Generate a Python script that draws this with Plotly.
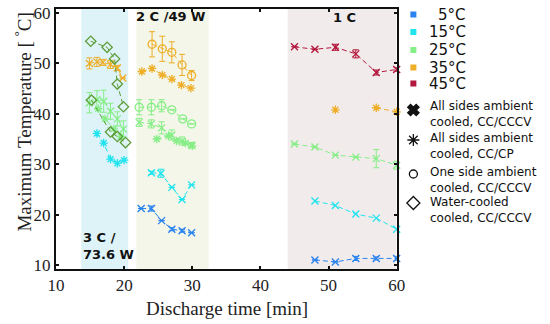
import plotly.graph_objects as go

# ---------------- data ----------------
temps = ["5°C", "15°C", "25°C", "35°C", "45°C"]
temp_colors = ["#2a83ee", "#1fe4ee", "#86ee86", "#eeae28", "#b3173d"]
diamond_color = "#5f9e3a"

method_labels = [
    "All sides ambient<br>cooled, CC/CCCV",
    "All sides ambient<br>cooled, CC/CP",
    "One side ambient<br>cooled, CC/CCCV",
    "Water-cooled<br>cooled, CC/CCCV",
]

bands = [(13.7, 20.6), (21.8, 32.4), (44.0, 60.0)]
band_labels = ["3 C /<br>73.6 W", "2 C /49 W", "1 C"]

x_ticks = [10, 20, 30, 40, 50, 60]
y_ticks = [10, 20, 30, 40, 50, 60]

# 5 °C
t_5_2c = [22.5, 24.0, 25.5, 27.0, 28.5, 29.9]
T_5_2c = [21.2, 21.2, 18.8, 17.1, 16.8, 16.4]
e_5_2c = [0, 0.5, 0, 0.3, 0.3, 0]
t_5_1c = [48, 51, 54, 57, 60]
T_5_1c = [11.0, 10.6, 11.3, 11.3, 11.3]
e_5_1c = [0, 0, 0.4, 0.3, 0.4]

# 15 °C
t_15_3c = [16.0, 17.0, 18.0, 19.0, 20.0]
T_15_3c = [36.1, 34.2, 31.0, 30.2, 30.8]
t_15_2c = [24.0, 25.4, 27.0, 28.5, 29.9]
T_15_2c = [28.3, 28.2, 25.4, 23.0, 25.9]
e_15_2c = [0.3, 0.8, 0, 0, 0]
t_15_1c = [48, 51, 54, 57, 60]
T_15_1c = [22.7, 21.8, 20.1, 19.3, 17.1]

# 25 °C
t_25_3c_a = [14.9, 16.0, 17.0, 18.0, 19.0, 19.9]
T_25_3c_a = [42.2, 42.8, 42.5, 40.5, 39.0, 37.0]
e_25_3c_a = [2.0, 1.8, 2.2, 1.6, 1.4, 1.6]
t_25_3c_b = [16.2, 17.2, 18.5, 19.5]
T_25_3c_b = [41.0, 39.0, 37.0, 35.5]
t_25_2c_o = [22.2, 24.0, 25.5, 27.0, 28.6, 29.9]
T_25_2c_o = [41.3, 41.3, 41.6, 40.8, 39.0, 38.0]
e_25_2c_o = [1.5, 1.5, 1.2, 0, 0, 0]
t_25_2c_a = [22.2, 24.0, 25.5, 27.0, 28.5, 29.9]
T_25_2c_a = [38.3, 38.0, 37.2, 35.8, 34.6, 33.8]
e_25_2c_a = [0.8, 0.8, 1.2, 1.0, 0.8, 0.5]
t_25_2c_b = [24.8, 26.5, 27.7, 29.0, 30.0]
T_25_2c_b = [35.0, 35.6, 34.6, 34.2, 33.6]
t_25_1c = [45, 48, 51, 54, 57, 60]
T_25_1c = [34.0, 33.4, 31.8, 31.4, 31.1, 29.8]
e_25_1c = [0, 0, 0, 0, 1.8, 0.8]

# 35 °C
t_35_3c = [14.9, 16.0, 16.9, 18.0, 19.0, 19.8]
T_35_3c = [50.0, 50.3, 50.2, 49.8, 49.1, 47.1]
e_35_3c = [1.1, 0.9, 0.6, 0.8, 0.5, 0]
t_35_2c_o = [24.1, 25.6, 27.0, 28.5, 29.9]
T_35_2c_o = [53.8, 52.9, 52.2, 49.7, 47.6]
e_35_2c_o = [2.5, 2.5, 2.1, 2.1, 1.0]
t_35_2c_b = [22.6, 24.1, 25.6, 27.0, 28.4, 29.8]
T_35_2c_b = [48.4, 49.0, 47.7, 46.9, 45.7, 45.1]
t_35_1c = [51, 54, 57, 60]
T_35_1c = [40.8, None, 41.2, 40.4]

# 45 °C
t_45_1c = [45, 48, 51, 54, 57, 60]
T_45_1c = [53.3, 52.8, 53.2, 51.9, 48.2, 48.8]
e_45_1c = [0, 0, 0.6, 0.8, 0.5, 0.4]

# water-cooled (diamonds)
t_wc_a = [15.1, 17.5, 18.6, 19.0, 19.9]
T_wc_a = [54.4, 53.2, 50.9, 45.9, 41.4]
t_wc_b = [15.2, 18.0, 19.0, 20.2]
T_wc_b = [42.7, 36.4, 35.5, 34.3]

# ---------------- layout helpers ----------------
W, H = 550, 324
L, RE, TOP, BOT = 56, 403, 9, 269


def pxx(x):
    return (x - L) / (W - L)


def pxy(y):
    return (BOT - y) / (BOT - TOP)


fig = go.Figure()

SYM = {"x": "x-thin", "ast": "asterisk", "o": "circle-open", "d": "diamond-open"}


def add(t, T, color, kind, err=None, size=7):
    marker = dict(symbol=SYM[kind], size=size, color=color,
                  line=dict(width=1.3, color=color))
    kw = {}
    if err is not None:
        kw["error_y"] = dict(type="data", array=err, color=color,
                             thickness=1, width=3)
    fig.add_trace(go.Scatter(
        x=t, y=T, mode="lines+markers", marker=marker,
        line=dict(color=color, width=1, dash="5px,3px"),
        showlegend=False, hoverinfo="skip", cliponaxis=False, **kw))


c5, c15, c25, c35, c45 = temp_colors

add(t_5_2c, T_5_2c, c5, "x", e_5_2c)
add(t_5_1c, T_5_1c, c5, "x", e_5_1c)
add(t_15_3c, T_15_3c, c15, "ast")
add(t_15_2c, T_15_2c, c15, "x", e_15_2c)
add(t_15_1c, T_15_1c, c15, "x")
add(t_25_3c_a, T_25_3c_a, c25, "x", e_25_3c_a)
add(t_25_3c_b, T_25_3c_b, c25, "ast")
add(t_25_2c_o, T_25_2c_o, c25, "o", e_25_2c_o, size=8)
add(t_25_2c_a, T_25_2c_a, c25, "x", e_25_2c_a)
add(t_25_2c_b, T_25_2c_b, c25, "ast")
add(t_25_1c, T_25_1c, c25, "x", e_25_1c)
add(t_35_3c, T_35_3c, c35, "x", e_35_3c)
add(t_35_2c_o, T_35_2c_o, c35, "o", e_35_2c_o, size=8)
add(t_35_2c_b, T_35_2c_b, c35, "ast")
add(t_35_1c, T_35_1c, c35, "ast")
add(t_45_1c, T_45_1c, c45, "x", e_45_1c)
add(t_wc_a, T_wc_a, diamond_color, "d", size=8)
add(t_wc_b, T_wc_b, diamond_color, "d", size=8)

# ---------------- legend (drawn on a pixel-space overlay axis) ----------------
leg_x = 420
temp_rows = [14.5, 32, 50, 67.5, 83.5]
fig.add_trace(go.Scatter(
    x=[leg_x] * len(temps), y=temp_rows, mode="markers",
    marker=dict(symbol="square", size=6, color=temp_colors),
    xaxis="x2", yaxis="y2", showlegend=False, hoverinfo="skip"))

method_rows = [110, 140, 174, 203]
method_syms = ["x", "asterisk-open", "circle-open", "diamond-open"]
method_sizes = [10, 10, 8, 10]
for yy, s, sz in zip(method_rows, method_syms, method_sizes):
    fig.add_trace(go.Scatter(
        x=[leg_x], y=[yy], mode="markers",
        marker=dict(symbol=s, size=sz, color="#111",
                    line=dict(width=1.3, color="#111")),
        xaxis="x2", yaxis="y2", showlegend=False, hoverinfo="skip"))

annotations = []
for lbl, yy in zip(temps, temp_rows):
    annotations.append(dict(
        x=pxx(476), y=pxy(yy), xref="paper", yref="paper", text=lbl,
        showarrow=False, xanchor="right", yanchor="middle",
        font=dict(family="DejaVu Sans", size=15, color="#111")))
method_text_y = [113.5, 145.5, 179.5, 210]
for lbl, yy in zip(method_labels, method_text_y):
    annotations.append(dict(
        x=pxx(435), y=pxy(yy), xref="paper", yref="paper", text=lbl,
        showarrow=False, xanchor="left", yanchor="middle", align="left",
        font=dict(family="DejaVu Sans", size=12, color="#111")))

# band labels
annotations.append(dict(x=pxx(81), y=pxy(245.5), xref="paper", yref="paper",
                        text="<b>" + band_labels[0] + "</b>", showarrow=False,
                        xanchor="left", yanchor="middle", align="left",
                        font=dict(family="DejaVu Sans", size=13, color="#111")))
annotations.append(dict(x=pxx(173), y=pxy(16), xref="paper", yref="paper",
                        text="<b>" + band_labels[1] + "</b>", showarrow=False,
                        xanchor="center", yanchor="middle",
                        font=dict(family="DejaVu Sans", size=13, color="#111")))
annotations.append(dict(x=pxx(350), y=pxy(18), xref="paper", yref="paper",
                        text="<b>" + band_labels[2] + "</b>", showarrow=False,
                        xanchor="center", yanchor="middle",
                        font=dict(family="DejaVu Sans", size=13, color="#111")))

# axis titles
annotations.append(dict(x=pxx(230), y=pxy(308), xref="paper", yref="paper",
                        text="Discharge time [min]", showarrow=False,
                        xanchor="center", yanchor="middle",
                        font=dict(family="Liberation Serif", size=19, color="#222")))
annotations.append(dict(x=pxx(22), y=pxy(122), xref="paper", yref="paper",
                        text="Maximum Temperature [ <sup>°</sup>C]", showarrow=False,
                        textangle=-90, xanchor="center", yanchor="middle",
                        font=dict(family="Liberation Serif", size=19, color="#222")))

band_colors = ["#def3f8", "#f3f6e8", "#f2ebeb"]
shapes = []
for (a, b), col in zip(bands, band_colors):
    shapes.append(dict(type="rect", xref="x", yref="paper", x0=a, x1=b,
                       y0=0, y1=1, fillcolor=col, line=dict(width=0),
                       layer="below"))

axis_common = dict(showline=True, linewidth=2, linecolor="#111", mirror="ticks",
                   ticks="inside", ticklen=3, tickwidth=1.5, tickcolor="#111",
                   showgrid=False, zeroline=False,
                   tickfont=dict(family="Liberation Serif", size=17, color="#222"))

fig.update_layout(
    width=W, height=H,
    margin=dict(l=L, r=0, t=TOP, b=H - BOT, pad=0),
    paper_bgcolor="white", plot_bgcolor="rgba(0,0,0,0)",
    showlegend=False,
    xaxis=dict(domain=[0, pxx(RE)], range=[10, 60], tickvals=x_ticks,
               **axis_common),
    yaxis=dict(domain=[0, 1], range=[9.2, 60.8], tickvals=y_ticks,
               **axis_common),
    xaxis2=dict(domain=[0, 1], range=[L, W], visible=False, anchor="y2"),
    yaxis2=dict(domain=[0, 1], range=[BOT, TOP], visible=False, anchor="x2"),
    shapes=shapes,
    annotations=annotations,
)

fig.write_html(
    "out.html",
    config={"displayModeBar": False},
    post_script="document.body.style.margin='0';document.body.style.padding='0';"
                "document.body.style.overflow='hidden';",
)
